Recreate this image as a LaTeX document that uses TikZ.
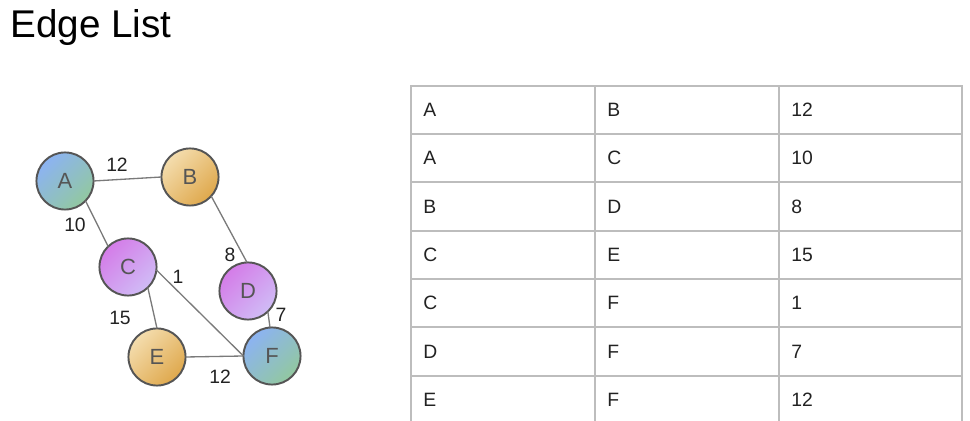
\documentclass[tikz,border=0pt]{standalone}
\usepackage{fontspec}
\setmainfont{Liberation Sans}

\definecolor{ringgray}{HTML}{555555}
\definecolor{edgegray}{HTML}{7A7A7A}
\definecolor{gridgray}{HTML}{BDBDBD}
\definecolor{inkgray}{HTML}{222222}
\definecolor{blueA}{HTML}{8CB3F2}
\definecolor{greenA}{HTML}{92C8A0}
\definecolor{sandA}{HTML}{F4DDAE}
\definecolor{sandB}{HTML}{DFA84C}
\definecolor{violetA}{HTML}{D47CE8}
\definecolor{violetB}{HTML}{D0BCF6}

\tikzset{
  vert/.style={circle, draw=ringgray, line width=1.1pt, minimum size=32.5pt,
    inner sep=0pt, outer sep=0pt, text=ringgray, font=\fontsize{12.5}{14}\selectfont},
  bluevert/.style={vert, top color=blueA, bottom color=greenA, shading angle=45},
  sandvert/.style={vert, top color=sandA, bottom color=sandB, shading angle=45},
  violetvert/.style={vert, top color=violetA, bottom color=violetB, shading angle=45},
  wt/.style={font=\fontsize{11}{13}\selectfont, text=inkgray, inner sep=0pt},
  cell/.style={anchor=west, font=\fontsize{11}{13}\selectfont, text=inkgray, inner sep=0pt},
  link/.style={draw=edgegray, line width=0.75pt},
  rule/.style={draw=gridgray, line width=0.9pt}
}

\begin{document}
\begin{tikzpicture}[x=0.02cm, y=-0.02cm]
      \useasboundingbox (0, 0) rectangle (970, 421);

      \node[anchor=base west, inner sep=0pt, font=\fontsize{22}{26}\selectfont] (title) at (10, 38) {Edge List};

      % graph
      \node[bluevert] (A) at (65, 181) {A};
      \node[sandvert] (B) at (190, 177) {B};
      \node[violetvert] (C) at (128, 267) {C};
      \node[violetvert] (D) at (248, 291) {D};
      \node[sandvert] (E) at (157, 357) {E};
      \node[bluevert] (F) at (272, 356) {F};

      \draw[link] (A.0) -- (B.180);
      \draw[link] (A.-44) -- (C.134);
      \draw[link] (B.-42) -- (D.92);
      \draw[link] (C.-46) -- (E.90);
      \draw[link] (C.-6) -- (F.180);
      \draw[link] (D.-46) -- (F.94);
      \draw[link] (E.0) -- (F.180);

      \node[wt] (w_ab) at (117, 165) {12};
      \node[wt] (w_ac) at (75, 225) {10};
      \node[wt] (w_bd) at (230, 255) {8};
      \node[wt] (w_cf) at (178, 277) {1};
      \node[wt] (w_ce) at (120, 318) {15};
      \node[wt] (w_df) at (281, 315) {7};
      \node[wt] (w_ef) at (220, 377) {12};

      % table
      \draw[rule] (411, 421) -- (411, 86) -- (962, 86) -- (962, 421);
      \draw[rule] (595, 86) -- (595, 421);
      \draw[rule] (779, 86) -- (779, 421);
      \draw[rule] (411, 134) -- (962, 134);
      \draw[rule] (411, 182) -- (962, 182);
      \draw[rule] (411, 231) -- (962, 231);
      \draw[rule] (411, 279) -- (962, 279);
      \draw[rule] (411, 327) -- (962, 327);
      \draw[rule] (411, 376) -- (962, 376);

      \node[cell] (r1_from) at (423, 110) {A};
      \node[cell] (r1_to) at (607, 110) {B};
      \node[cell] (r1_wt) at (791, 110) {12};
      \node[cell] (r2_from) at (423, 158) {A};
      \node[cell] (r2_to) at (607, 158) {C};
      \node[cell] (r2_wt) at (791, 158) {10};
      \node[cell] (r3_from) at (423, 207) {B};
      \node[cell] (r3_to) at (607, 207) {D};
      \node[cell] (r3_wt) at (791, 207) {8};
      \node[cell] (r4_from) at (423, 255) {C};
      \node[cell] (r4_to) at (607, 255) {E};
      \node[cell] (r4_wt) at (791, 255) {15};
      \node[cell] (r5_from) at (423, 303) {C};
      \node[cell] (r5_to) at (607, 303) {F};
      \node[cell] (r5_wt) at (791, 303) {1};
      \node[cell] (r6_from) at (423, 352) {D};
      \node[cell] (r6_to) at (607, 352) {F};
      \node[cell] (r6_wt) at (791, 352) {7};
      \node[cell] (r7_from) at (423, 400) {E};
      \node[cell] (r7_to) at (607, 400) {F};
      \node[cell] (r7_wt) at (791, 400) {12};
    \end{tikzpicture}
\end{document}
